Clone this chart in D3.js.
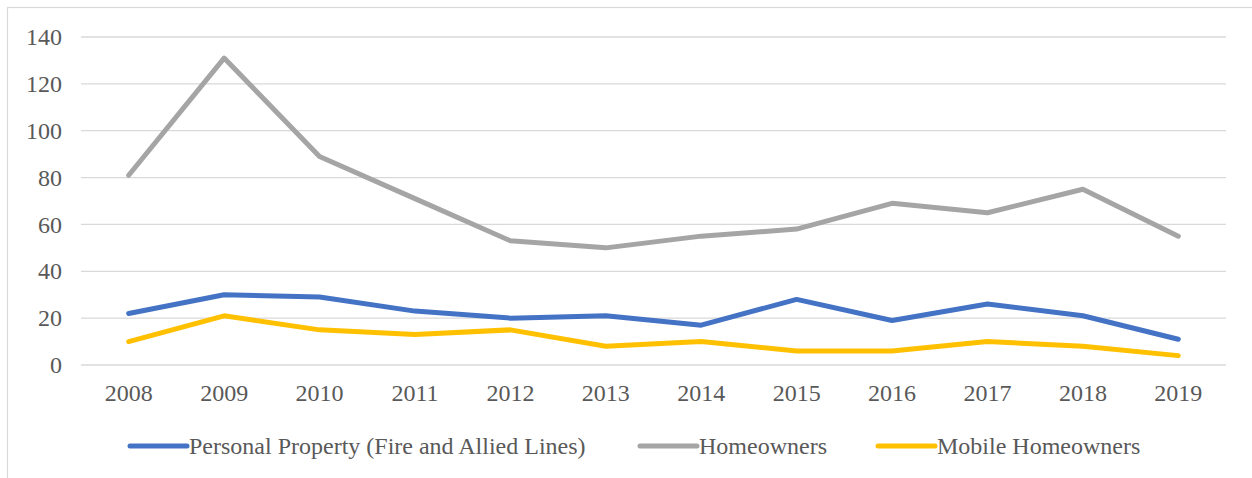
<!DOCTYPE html>
<html>
<head>
<meta charset="utf-8">
<script src="https://cdn.jsdelivr.net/npm/d3@7"></script>
<style>
html,body{margin:0;padding:0;background:#fff;}
svg{display:block;}
text{font-family:"Liberation Serif","Times New Roman",serif;fill:#595959;}
</style>
</head>
<body>
<svg id="chart" width="1252" height="478"></svg>
<script>
const years = ["2008","2009","2010","2011","2012","2013","2014","2015","2016","2017","2018","2019"];
const personalProperty = [22,30,29,23,20,21,17,28,19,26,21,11];
const homeowners = [81,131,89,71,53,50,55,58,69,65,75,55];
const mobileHomeowners = [10,21,15,13,15,8,10,6,6,10,8,4];
const seriesNames = ["Personal Property (Fire and Allied Lines)","Homeowners","Mobile Homeowners"];
const seriesColors = ["#4472C4","#A5A5A5","#FFC000"];
const yTicks = [0,20,40,60,80,100,120,140];

(function(){
const series = [personalProperty, homeowners, mobileHomeowners].map((v,i)=>({name:seriesNames[i],color:seriesColors[i],values:v}));

const svg = d3.select("#chart");
const W = 1252, H = 478;
const pl = 81, pr = 1226, pt = 37, pb = 365;
const fs = 24;
const FONT = "'Liberation Serif', 'Times New Roman', serif";

// outer border
svg.append("rect").attr("x",7.5).attr("y",7.5).attr("width",W+20).attr("height",H+20)
  .attr("fill","none").attr("stroke","#D9D9D9").attr("stroke-width",1.2);

const x = d3.scaleBand().domain(years).range([pl,pr]);
const y = d3.scaleLinear().domain([0,140]).range([pb,pt]);

// gridlines
svg.append("g").selectAll("line").data(yTicks).join("line")
  .attr("x1",pl).attr("x2",pr)
  .attr("y1",d=>y(d)).attr("y2",d=>y(d))
  .attr("stroke","#D9D9D9").attr("stroke-width",1.3);

// y axis labels
const yAxis = d3.axisLeft(y).tickValues(yTicks).tickSize(0).tickPadding(0);
const gy = svg.append("g").attr("transform",`translate(${pl-19},0)`).call(yAxis);
gy.attr("font-family",FONT).attr("font-size",fs);
gy.select(".domain").remove();
gy.selectAll("text").attr("fill","#595959").attr("font-family",FONT).attr("font-size",fs);

// x axis labels
const xAxis = d3.axisBottom(x).tickSize(0).tickPadding(0);
const gx = svg.append("g").attr("transform",`translate(0,${pb+19})`).call(xAxis);
gx.attr("font-family",FONT).attr("font-size",fs);
gx.select(".domain").remove();
gx.selectAll("text").attr("fill","#595959").attr("font-family",FONT).attr("font-size",fs);

// lines
const line = d3.line().x((d,i)=>x(years[i])+x.bandwidth()/2).y(d=>y(d));
svg.append("g").selectAll("path").data(series).join("path")
  .attr("d",d=>line(d.values))
  .attr("fill","none").attr("stroke",d=>d.color).attr("stroke-width",5)
  .attr("stroke-linejoin","round").attr("stroke-linecap","round");

// legend
const legendY = 446;
const legendX = [130, 640, 878];
const lg = svg.append("g").selectAll("g").data(series).join("g")
  .attr("transform",(d,i)=>`translate(${legendX[i]},${legendY})`);
lg.append("line").attr("x1",0).attr("x2",57).attr("y1",0).attr("y2",0)
  .attr("stroke",d=>d.color).attr("stroke-width",5).attr("stroke-linecap","round");
lg.append("text").attr("x",59).attr("y",0).attr("dy","0.35em")
  .attr("font-family",FONT).attr("font-size",fs).text(d=>d.name);
})();
</script>
</body>
</html>
